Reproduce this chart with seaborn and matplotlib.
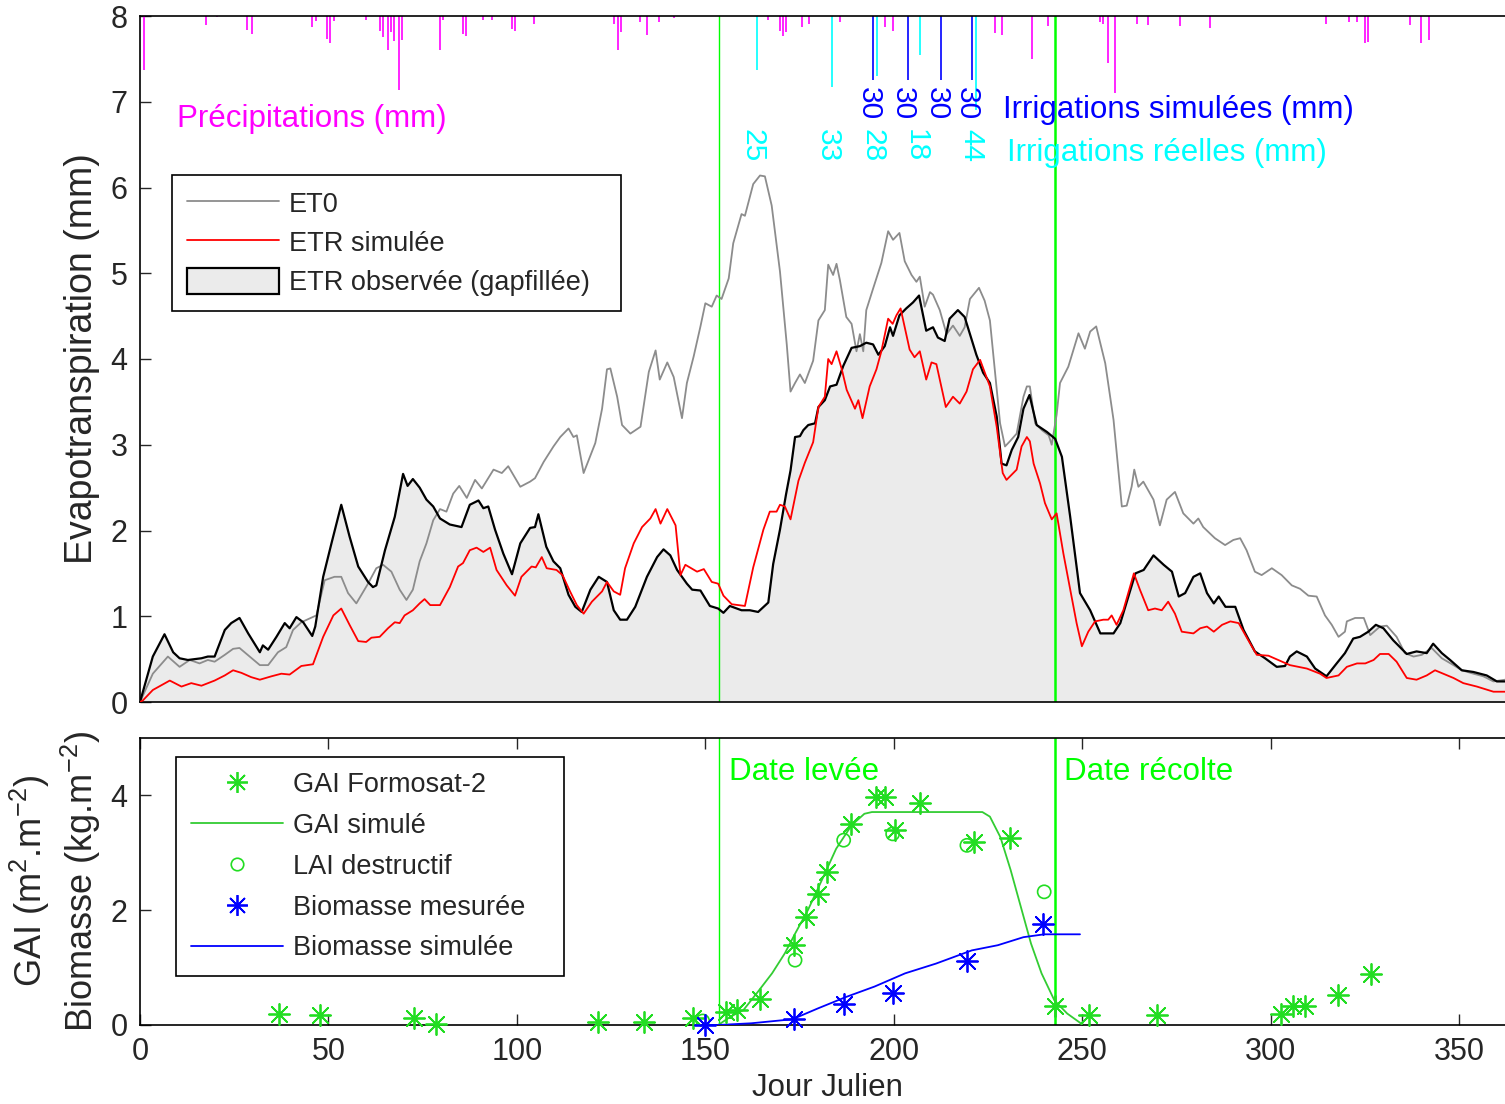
import numpy as np
import matplotlib
matplotlib.use("Agg")
import matplotlib.pyplot as plt
from matplotlib.lines import Line2D
from matplotlib.patches import Patch
import seaborn as sns

# ---------------- données : panneau supérieur ----------------
obs_jour = [0, 3.4, 6.5, 8.8, 10.5, 12.7, 16.3, 18, 19.8, 22.5,
            24.2, 26.4, 28.7, 31.8, 32.6, 34, 36.2, 38.4, 39.7, 41.5,
            43.3, 45.7, 46.5, 48.6, 50.8, 53.4, 55.6, 57.9, 60.5, 61.8,
            62.7, 65, 67.6, 69.8, 71, 72.4, 74.2, 76, 77.8, 79.6,
            82.2, 85.3, 87.5, 89.8, 91.1, 92.4, 94.2, 96.4, 98.7, 100.9,
            103.5, 104.8, 105.7, 107.8, 109.7, 111.5, 113.7, 115.5, 117.2, 119.5,
            121.7, 123.9, 125.7, 127.4, 129.2, 131.4, 134.5, 137.2, 138.9, 140.7,
            142.5, 145.1, 146.5, 148.7, 151.2, 153.4, 154.8, 156.5, 159.6, 161.8,
            164, 166.7, 168, 169.8, 171.4, 172.6, 173.8, 175.1, 176, 177.3,
            179.1, 180, 181.7, 183.1, 184.8, 186.6, 188.8, 191, 192.7, 194.5,
            195.9, 197.6, 199, 199.8, 201.5, 203.3, 205.1, 206.7, 208.6, 210.4,
            211.7, 213.5, 214.8, 217, 218.8, 220.2, 221.9, 223.7, 225.5, 227.3,
            228.6, 229.9, 231.3, 233, 234.4, 236, 237.9, 240.6, 242.8, 244.6,
            246.8, 249.4, 252.1, 254.8, 258.3, 260.1, 264.1, 266.3, 268.9, 271.6,
            273.8, 275.6, 277.3, 279.5, 281.3, 283.1, 284.9, 286.2, 288, 290.6,
            292.8, 295.8, 298.5, 301.6, 303.8, 305.1, 306.9, 309.6, 311.8, 314.8,
            317.5, 319.7, 321.9, 323.7, 325.9, 327.9, 329.9, 332.5, 336.1, 338.7,
            341.4, 343.1, 345.4, 347.6, 350.7, 353.8, 357.3, 360, 362.2, 365]
obs_val = [0, 0.53, 0.79, 0.58, 0.51, 0.49, 0.51, 0.53, 0.53, 0.84,
           0.92, 0.98, 0.80, 0.58, 0.66, 0.61, 0.76, 0.92, 0.86, 0.99,
           0.93, 0.77, 0.88, 1.46, 1.85, 2.30, 1.93, 1.58, 1.40, 1.34,
           1.36, 1.77, 2.16, 2.66, 2.52, 2.60, 2.50, 2.36, 2.28, 2.14,
           2.07, 2.04, 2.30, 2.35, 2.26, 2.28, 2.01, 1.73, 1.49, 1.85,
           2.03, 2.04, 2.19, 1.81, 1.64, 1.56, 1.25, 1.11, 1.05, 1.31,
           1.46, 1.40, 1.07, 0.96, 0.96, 1.11, 1.46, 1.69, 1.78, 1.71,
           1.54, 1.38, 1.31, 1.30, 1.12, 1.09, 1.04, 1.12, 1.07, 1.07,
           1.05, 1.16, 1.61, 2.01, 2.42, 2.70, 3.09, 3.10, 3.17, 3.23,
           3.25, 3.44, 3.52, 3.68, 3.70, 3.92, 4.13, 4.15, 4.19, 4.17,
           4.05, 4.15, 4.37, 4.27, 4.51, 4.59, 4.66, 4.74, 4.33, 4.37,
           4.25, 4.21, 4.47, 4.57, 4.49, 4.29, 4.05, 3.84, 3.72, 3.33,
           2.78, 2.76, 2.94, 3.09, 3.42, 3.58, 3.23, 3.15, 3.07, 2.86,
           2.16, 1.27, 1.07, 0.80, 0.80, 0.92, 1.50, 1.54, 1.71, 1.60,
           1.52, 1.23, 1.27, 1.46, 1.50, 1.27, 1.15, 1.23, 1.11, 1.11,
           0.84, 0.59, 0.51, 0.41, 0.42, 0.53, 0.59, 0.53, 0.39, 0.30,
           0.45, 0.57, 0.74, 0.76, 0.82, 0.90, 0.86, 0.72, 0.56, 0.59,
           0.57, 0.68, 0.57, 0.49, 0.37, 0.35, 0.31, 0.24, 0.24, 0.22]

et0_jour = [0, 3.4, 7.4, 10.5, 13.2, 15.8, 18, 19.8, 22.5, 24.7,
            26.4, 29.1, 31.8, 34, 36.6, 38.8, 40.6, 42.8, 46.8, 49,
            51.6, 53.4, 55.2, 57.4, 60.5, 62.7, 64.5, 66.7, 68.9, 70.7,
            72.4, 74.2, 76, 77.8, 79.6, 81.3, 83.1, 84.7, 86.7, 88.9,
            90.7, 93.8, 96, 97.7, 100.9, 103.5, 104.8, 107.1, 109.7, 111.5,
            113.7, 115, 115.9, 117.7, 120.8, 122.6, 123.9, 124.8, 126.6, 127.9,
            130.1, 132.8, 135, 136.8, 137.9, 139.9, 141.6, 143.8, 145.1, 146.9,
            148.7, 150, 151.7, 153, 154.3, 156.2, 157.4, 159.6, 160.5, 162.7,
            164.5, 165.8, 167.6, 169.8, 171.6, 172.6, 173.8, 175.1, 176.4, 178.6,
            180, 181.7, 182.6, 183.9, 184.8, 185.7, 187.4, 188.8, 190.1, 191,
            191.9, 192.7, 194.5, 196.7, 198.5, 199.8, 201.5, 202.9, 204.7, 206,
            206.9, 208.2, 209.6, 210.4, 212.2, 214, 215.7, 217.5, 218.8, 220.2,
            222.6, 224.1, 225.5, 226.8, 228.2, 229.5, 230.8, 232.6, 234.4, 235.3,
            236.1, 237.5, 239.3, 241.1, 241.9, 243.2, 244.1, 246.3, 249, 250.7,
            252.1, 253.7, 256.1, 258.3, 260.5, 261.8, 263.1, 263.8, 264.9, 266.2,
            268.9, 270.6, 272.4, 274.6, 276.8, 279.5, 280.8, 282.1, 285.2, 287.9,
            290.1, 291.9, 293.6, 295.8, 297.6, 300.3, 302.9, 305.6, 307.8, 310,
            312.2, 314.4, 316.2, 318, 319.7, 320.2, 322.4, 324.7, 326.4, 329,
            330.8, 333.4, 335.6, 337.9, 340.1, 342.7, 345.4, 348.5, 350.7, 353.8,
            356.4, 359.1, 362.2, 365]
et0_val = [0, 0.33, 0.53, 0.41, 0.49, 0.45, 0.49, 0.47, 0.55, 0.62,
           0.63, 0.53, 0.43, 0.43, 0.58, 0.64, 0.84, 0.93, 1.01, 1.42,
           1.46, 1.46, 1.27, 1.15, 1.38, 1.56, 1.60, 1.52, 1.31, 1.19,
           1.31, 1.64, 1.85, 2.12, 2.25, 2.22, 2.43, 2.52, 2.38, 2.59,
           2.49, 2.71, 2.67, 2.75, 2.51, 2.57, 2.61, 2.80, 2.98, 3.09,
           3.19, 3.09, 3.11, 2.67, 3.02, 3.42, 3.88, 3.89, 3.56, 3.23,
           3.13, 3.21, 3.85, 4.10, 3.76, 3.96, 3.79, 3.31, 3.72, 4.03,
           4.38, 4.65, 4.61, 4.74, 4.70, 4.94, 5.35, 5.69, 5.67, 6.04,
           6.14, 6.13, 5.79, 5.02, 4.17, 3.62, 3.72, 3.82, 3.72, 3.98,
           4.45, 4.57, 5.10, 4.98, 5.11, 4.92, 4.49, 4.41, 4.09, 4.29,
           4.09, 4.57, 4.82, 5.12, 5.49, 5.39, 5.47, 5.14, 4.98, 4.90,
           4.96, 4.61, 4.78, 4.75, 4.57, 4.29, 4.39, 4.27, 4.37, 4.70,
           4.83, 4.68, 4.45, 3.87, 3.25, 2.98, 3.04, 3.13, 3.56, 3.68,
           3.68, 3.25, 3.17, 3.11, 3.00, 3.35, 3.72, 3.91, 4.30, 4.12,
           4.32, 4.38, 3.95, 3.29, 2.28, 2.29, 2.51, 2.71, 2.51, 2.57,
           2.36, 2.06, 2.36, 2.45, 2.20, 2.08, 2.14, 2.04, 1.91, 1.83,
           1.89, 1.91, 1.77, 1.52, 1.48, 1.56, 1.48, 1.36, 1.32, 1.24,
           1.23, 1.01, 0.90, 0.76, 0.82, 0.94, 0.98, 0.98, 0.78, 0.88,
           0.89, 0.76, 0.57, 0.53, 0.55, 0.63, 0.51, 0.43, 0.37, 0.33,
           0.30, 0.24, 0.26, 0.25]

sim_jour = [0, 0.8, 3.4, 7.9, 11, 13.6, 16.3, 19.8, 22.5, 24.7,
            26.9, 29.5, 31.8, 34.9, 37.5, 39.7, 42.8, 45.9, 48.6, 51.3,
            53.4, 55.6, 57.9, 60, 61.4, 63.6, 65.8, 67.6, 68.9, 70.2,
            72.4, 74.2, 75.5, 77, 79.6, 82.2, 84.4, 85.7, 87.5, 89.3,
            91.1, 92.9, 94.6, 97.3, 99.5, 101.2, 103.9, 105, 106.6, 107.9,
            110.5, 112.1, 114.1, 115.9, 117.7, 119.9, 122.6, 123.9, 125.7, 127.4,
            128.7, 131, 133.2, 135.4, 136.8, 138.1, 139.9, 142.1, 143.4, 144.7,
            147.8, 149.6, 151.7, 153.4, 154.8, 157, 160.5, 162.7, 165.4, 167.1,
            168.9, 169.8, 171.1, 172.6, 174.7, 176.4, 178.6, 180, 181.7, 182.6,
            183.5, 184.8, 186.2, 187.5, 189.7, 190.6, 191.7, 193.6, 195.4, 196.7,
            198.5, 199.7, 200.7, 201.8, 202.9, 204.2, 205.5, 206.9, 208.6, 210,
            211.3, 213.8, 215.7, 217.5, 219.3, 221, 222.9, 225.5, 227.3, 228.9,
            229.9, 232.6, 233.9, 235.3, 236.1, 237.1, 238.8, 240.1, 241.9, 243.2,
            245, 246.8, 248.5, 249.9, 251.6, 253.4, 255.6, 256.9, 257.8, 259.1,
            260.9, 263.7, 265.3, 267.5, 269.3, 271.1, 272.8, 274.6, 276.4, 279.5,
            281.3, 283.1, 284.9, 287.1, 289.3, 291.5, 293.8, 296.3, 299.4, 302,
            305.1, 309.6, 313.1, 314.8, 318, 320.2, 322.9, 325.1, 327.3, 329,
            331.3, 333.4, 336.1, 338.7, 341.4, 343.6, 345.8, 348.5, 351.1, 354.7,
            359.1, 362.2, 365]
sim_val = [0, 0.02, 0.14, 0.25, 0.18, 0.22, 0.19, 0.25, 0.31, 0.37,
           0.34, 0.29, 0.26, 0.30, 0.33, 0.32, 0.42, 0.44, 0.76, 1.01,
           1.09, 0.90, 0.71, 0.70, 0.75, 0.76, 0.86, 0.93, 0.92, 1.01,
           1.07, 1.15, 1.20, 1.13, 1.13, 1.34, 1.58, 1.62, 1.77, 1.80,
           1.75, 1.80, 1.54, 1.36, 1.24, 1.46, 1.58, 1.57, 1.69, 1.56,
           1.54, 1.48, 1.29, 1.13, 1.03, 1.17, 1.29, 1.40, 1.29, 1.25,
           1.56, 1.85, 2.04, 2.14, 2.25, 2.08, 2.25, 2.06, 1.48, 1.60,
           1.52, 1.55, 1.40, 1.38, 1.24, 1.14, 1.12, 1.57, 2.01, 2.22,
           2.22, 2.30, 2.28, 2.13, 2.58, 2.79, 3.03, 3.44, 3.56, 4.00,
           3.94, 4.09, 3.88, 3.64, 3.42, 3.52, 3.31, 3.68, 3.88, 4.09,
           4.47, 4.41, 4.51, 4.59, 4.37, 4.11, 4.02, 4.09, 3.76, 3.96,
           3.94, 3.44, 3.56, 3.48, 3.62, 3.88, 3.99, 3.68, 3.21, 2.67,
           2.59, 2.71, 2.98, 3.09, 3.04, 2.78, 2.55, 2.32, 2.13, 2.20,
           1.73, 1.31, 0.92, 0.65, 0.82, 0.94, 0.96, 0.96, 1.01, 0.90,
           1.07, 1.50, 1.31, 1.07, 1.09, 1.07, 1.17, 1.03, 0.82, 0.80,
           0.86, 0.88, 0.82, 0.90, 0.94, 0.92, 0.74, 0.55, 0.54, 0.49,
           0.43, 0.39, 0.33, 0.28, 0.31, 0.41, 0.45, 0.45, 0.49, 0.56,
           0.56, 0.47, 0.28, 0.26, 0.31, 0.37, 0.33, 0.28, 0.22, 0.18,
           0.12, 0.12, 0.12]

precip_jour = [1, 17.5, 20.4, 28.4, 29.6, 45.6, 46.8, 49.6, 50.4, 51.6,
               59.9, 63.7, 64.6, 65.7, 66.7, 67.5, 68.6, 69.5, 79.5, 80.5,
               85.6, 86.6, 91, 93.5, 98.6, 99.5, 104.5, 125.8, 126.7, 127.6,
               132.7, 134.5, 137.7, 141.6, 166.7, 169.7, 170.5, 171.4, 175.6, 177.6,
               185.7, 197.6, 199.7, 226.8, 228.7, 236.8, 240.9, 254.7, 255.6, 256.8,
               258.6, 264.5, 267.5, 276, 283.8, 314.7, 320.9, 322.9, 325, 325.9,
               337, 340, 341.9]
precip_mm = [25, 4, 0.5, 6.5, 8.4, 5, 2.3, 10.8, 12.6, 2.3,
             2, 7, 9.8, 16, 7.5, 11.5, 34.6, 11, 16, 2,
             8.4, 9.3, 2, 2, 6, 7, 3.5, 3.5, 16, 7.5,
             3, 9, 3, 1, 2, 7, 9.5, 7.5, 5, 3.5,
             2.8, 5, 7, 8, 9, 20, 4.5, 3, 3.5, 22,
             36, 3.5, 4, 4.5, 5.5, 3.5, 3, 3, 12.6, 12,
             4, 12.6, 11]

irr_reel_jour = [163.6, 183.7, 195.6, 206.9, 221.7]
irr_reel_mm = [25, 33, 28, 18, 44]
irr_sim_jour = [194.6, 203.8, 212.6, 220.8]
irr_sim_mm = [30, 30, 30, 30]

dates_cles = [153.6, 242.8]          # date levée, date récolte

# ---------------- données : panneau inférieur ----------------
gai_f2_jour = [36.8, 47.7, 72.6, 78.5, 121.5, 133.8, 146.6, 155.5, 158.4, 164.6,
               173.5, 176.8, 179.9, 182.4, 188.7, 195.2, 197.6, 200.3, 206.9, 221.4,
               230.7, 242.8, 251.7, 269.8, 302.7, 305.9, 309, 317.8, 326.7]
gai_f2_val = [0.19, 0.17, 0.12, 0.02, 0.05, 0.05, 0.13, 0.22, 0.27, 0.45,
              1.40, 1.88, 2.29, 2.67, 3.51, 3.98, 3.97, 3.40, 3.86, 3.19,
              3.26, 0.33, 0.17, 0.17, 0.19, 0.33, 0.33, 0.53, 0.89]

lai_jour = [149.3, 173.8, 186.7, 199.7, 219.4, 239.9]
lai_val = [0.07, 1.13, 3.22, 3.33, 3.13, 2.32]

gai_sim_jour = [153.4, 156.8, 160.1, 163.6, 167.7, 171.1, 173.8, 177.2, 181.3, 184.7,
                188.8, 192.2, 194.2, 223.5, 225.5, 228.3, 231, 233.7, 236.4, 239.2,
                242.6, 246, 249.4, 250]
gai_sim_val = [0, 0.15, 0.26, 0.55, 0.90, 1.25, 1.59, 2.0, 2.58, 3.07,
               3.48, 3.68, 3.71, 3.71, 3.63, 3.27, 2.70, 2.06, 1.42, 0.90,
               0.43, 0.20, 0.04, 0]

bio_sim_jour = [150, 153.4, 162.2, 173.1, 179.9, 187.4, 194.9, 203, 211.2, 220.7,
                227.6, 234.4, 239.9, 249.4]
bio_sim_val = [0, 0, 0.03, 0.10, 0.29, 0.49, 0.67, 0.90, 1.07, 1.30,
               1.39, 1.53, 1.58, 1.58]

bio_mes_jour = [149.8, 173.4, 186.7, 199.7, 219.4, 239.5]
bio_mes_val = [0.0, 0.10, 0.36, 0.56, 1.12, 1.76]

# ---------------- style ----------------
sns.set_style("ticks")
plt.rcParams["font.family"] = ["Liberation Sans", "DejaVu Sans"]
plt.rcParams["mathtext.default"] = "regular"

GREEN = "#00ff00"
GREEN_L = "#33cc33"
STAR = (8, 2, 0)

fig = plt.figure(figsize=(15.05, 11.04), dpi=100)
L = 140 / 1505
W = 365 * 3.769 / 1505
ax1 = fig.add_axes([L, 1 - 702 / 1104, W, (702 - 16) / 1104])
ax2 = fig.add_axes([L, 1 - 1025 / 1104, W, (1025 - 738) / 1104])

# ---------------- panneau supérieur ----------------
ax1.fill_between(obs_jour, obs_val, 0, facecolor="#ebebeb", edgecolor="none", zorder=1)
sns.lineplot(x=et0_jour, y=et0_val, ax=ax1, color="#8c8c8c", lw=1.3,
             sort=False, estimator=None, zorder=3)
sns.lineplot(x=sim_jour, y=sim_val, ax=ax1, color="red", lw=1.3,
             sort=False, estimator=None, zorder=4)
sns.lineplot(x=obs_jour, y=obs_val, ax=ax1, color="black", lw=1.6,
             sort=False, estimator=None, zorder=3)

top = 8.0
ax1.vlines(precip_jour, top - np.array(precip_mm) / 40.0, top, color="#ff00ff", lw=1.2, zorder=2)
ax1.vlines(irr_reel_jour, top - np.array(irr_reel_mm) / 40.0, top, color="#00ffff", lw=1.2, zorder=2)
ax1.vlines(irr_sim_jour, top - np.array(irr_sim_mm) / 40.0, top, color="#0000ff", lw=1.2, zorder=2)

for j, lw in zip(dates_cles, [1.0, 1.8]):
    ax1.axvline(j, color=GREEN, lw=lw, zorder=2)
    ax2.axvline(j, color=GREEN, lw=lw, zorder=2)

for j, v in zip(irr_sim_jour, irr_sim_mm):
    ax1.text(j - 1.3, 7.17, str(v), rotation=-90, ha="center", va="top",
             color="#0000ff", fontsize=21.5)
for j, v in zip(irr_reel_jour, irr_reel_mm):
    ax1.text(j - 1.2, 6.68, str(v), rotation=-90, ha="center", va="top",
             color="#00ffff", fontsize=21.5)

ax1.text(9.8, 6.8, "Précipitations (mm)", color="#ff00ff", fontsize=22.5, va="center")
ax1.text(229.0, 6.9, "Irrigations simulées (mm)", color="#0000ff", fontsize=22.5, va="center")
ax1.text(230.1, 6.4, "Irrigations réelles (mm)", color="#00ffff", fontsize=22.5, va="center")

ax1.set_xlim(0, 365)
ax1.set_ylim(0, 8)
ax1.set_yticks(range(0, 9))
ax1.set_xticks([])
ax1.set_ylabel("Evapotranspiration (mm)", fontsize=27)
ax1.yaxis.set_label_coords(-0.029, 0.5)

h1 = [Line2D([], [], color="#8c8c8c", lw=1.3),
      Line2D([], [], color="red", lw=1.3),
      Patch(facecolor="#ebebeb", edgecolor="black", lw=1.6)]
leg1 = ax1.legend(h1, ["ET0", "ETR simulée", "ETR observée (gapfillée)"],
                  loc="upper left", bbox_to_anchor=(0.0233, 0.768, 0.3264, 0),
                  mode="expand", borderaxespad=0,
                  fontsize=19.5, frameon=True, fancybox=False, framealpha=1,
                  edgecolor="black", borderpad=0.55, labelspacing=0.4,
                  handlelength=3.4, handleheight=1.1, handletextpad=0.35)
leg1.get_frame().set_linewidth(1.2)

# ---------------- panneau inférieur ----------------
sns.lineplot(x=gai_sim_jour, y=gai_sim_val, ax=ax2, color=GREEN_L, lw=1.3,
             sort=False, estimator=None, zorder=3)
sns.lineplot(x=bio_sim_jour, y=bio_sim_val, ax=ax2, color="#0000ff", lw=1.3,
             sort=False, estimator=None, zorder=3)
sns.scatterplot(x=gai_f2_jour, y=gai_f2_val, ax=ax2, marker=STAR, s=230,
                color="#22dd22", linewidth=1.3, zorder=4, clip_on=False)
sns.scatterplot(x=lai_jour, y=lai_val, ax=ax2, marker="o", s=90,
                facecolor="none", edgecolor="#22dd22", linewidth=1.2, zorder=4)
sns.scatterplot(x=bio_mes_jour, y=bio_mes_val, ax=ax2, marker=STAR, s=230,
                color="#0000ff", linewidth=1.3, zorder=5, clip_on=False)

ax2.text(156.2, 4.4, "Date levée", color=GREEN, fontsize=22.5, va="center")
ax2.text(245.2, 4.4, "Date récolte", color=GREEN, fontsize=22.5, va="center")

ax2.set_xlim(0, 365)
ax2.set_ylim(0, 5)
ax2.set_yticks([0, 2, 4])
ax2.set_xticks(range(0, 351, 50))
ax2.set_xlabel("Jour Julien", fontsize=22.5, labelpad=4)
ax2.set_ylabel("GAI (m$^{2}$.m$^{-2}$)\nBiomasse (kg.m$^{-2}$)", fontsize=26, linespacing=1.2)
ax2.yaxis.set_label_coords(-0.027, 0.5)

h2 = [Line2D([], [], ls="none", marker=STAR, ms=15, mec="#22dd22", mew=1.3, color="#22dd22"),
      Line2D([], [], color=GREEN_L, lw=1.3),
      Line2D([], [], ls="none", marker="o", ms=9, mfc="none", mec="#22dd22", mew=1.2),
      Line2D([], [], ls="none", marker=STAR, ms=15, mec="#0000ff", mew=1.3, color="#0000ff"),
      Line2D([], [], color="#0000ff", lw=1.3)]
leg2 = ax2.legend(h2, ["GAI Formosat-2", "GAI simulé", "LAI destructif",
                       "Biomasse mesurée", "Biomasse simulée"],
                  loc="upper left", bbox_to_anchor=(0.0262, 0.934, 0.282, 0),
                  mode="expand", borderaxespad=0,
                  fontsize=19.5, frameon=True, fancybox=False, framealpha=1,
                  edgecolor="black", borderpad=0.55, labelspacing=0.55,
                  handlelength=3.4, handletextpad=0.35)
leg2.get_frame().set_linewidth(1.2)

for ax in (ax1, ax2):
    ax.tick_params(direction="in", length=8, width=1, labelsize=22,
                   top=True, right=True, pad=9)
    for s in ax.spines.values():
        s.set_linewidth(1.2)
        s.set_color("black")
ax1.tick_params(axis="x", top=False, bottom=False)

fig.savefig("out.png", dpi=100)
